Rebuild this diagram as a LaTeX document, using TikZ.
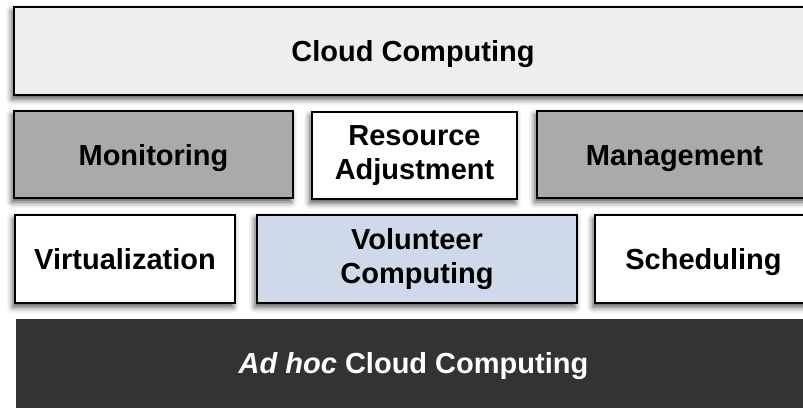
\documentclass[tikz,border=0pt]{standalone}
\usepackage{fontspec}
\setmainfont{Liberation Sans}
\usetikzlibrary{shadows.blur}

\definecolor{cloudgray}{HTML}{EEEEEE}
\definecolor{midgray}{HTML}{AAAAAA}
\definecolor{volblue}{HTML}{D0D9EA}
\definecolor{adhocdark}{HTML}{333333}

\def\layerfont{\fontsize{29}{34}\selectfont\bfseries}

\begin{document}
\begin{tikzpicture}[x=1pt, y=-1pt,
    layer/.style={draw=black, line width=2.5pt, fill=white, align=center,
                  inner sep=0pt, font=\layerfont,
                  blur shadow={shadow xshift=-2pt, shadow yshift=-4pt,
                               shadow blur radius=6pt, shadow opacity=70}},
    oneline/.style={text height=21pt, text depth=0pt},
    base/.style={draw=white, line width=1pt, fill=adhocdark, text=white,
                 inner sep=0pt, font=\layerfont, oneline}]
  \useasboundingbox (0,0) rectangle (803,407);

  % top layer
  \node[layer, oneline, fill=cloudgray, minimum width=798pt, minimum height=88pt]
       (cloud) at (413,51) {Cloud Computing};

  % second row
  \node[layer, oneline, fill=midgray, minimum width=279pt, minimum height=87pt]
       (monitor) at (153.5,154.5) {Monitoring};
  \node[layer, minimum width=205pt, minimum height=87pt]
       (resource) at (414.5,155.5) {Resource\\Adjustment};
  \node[layer, oneline, fill=midgray, minimum width=275pt, minimum height=87pt]
       (manage) at (674.5,154.5) {Management};

  % third row
  \node[layer, oneline, minimum width=220pt, minimum height=88pt]
       (virtual) at (125,259) {Virtualization};
  \node[layer, fill=volblue, minimum width=320pt, minimum height=88pt]
       (volunteer) at (417,259) {Volunteer\\Computing};
  \node[layer, oneline, minimum width=217pt, minimum height=88pt]
       (sched) at (703.5,259) {Scheduling};

  % bottom layer
  \node[base, minimum width=797pt, minimum height=90pt]
       (adhoc) at (413.5,363) {\textit{Ad hoc} Cloud Computing};
\end{tikzpicture}
\end{document}
